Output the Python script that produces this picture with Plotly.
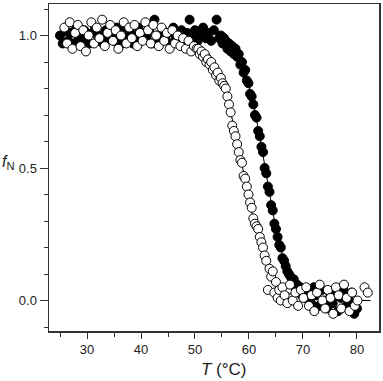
import plotly.graph_objects as go

# ---- filled circles (series 1) ----
T_FILLED = [
    25.0, 25.5, 26.0, 26.5, 27.0, 27.5, 28.0, 28.5, 29.0, 29.5,
    30.0, 30.5, 31.0, 31.5, 32.0, 32.5, 33.0, 33.5, 34.0, 34.5,
    35.0, 35.5, 36.0, 36.5, 37.0, 37.5, 38.0, 38.5, 39.0, 39.5,
    40.0, 40.5, 41.0, 41.5, 42.0, 42.5, 43.0, 43.5, 44.0, 44.5,
    45.0, 45.5, 46.0, 46.5, 47.0, 47.5, 48.0, 48.5, 49.0, 49.5,
    50.0, 50.5, 51.0, 51.5, 52.0, 52.5, 53.0, 53.5, 54.0, 54.5,
    54.8, 55.1, 55.4, 55.7, 56.0, 56.3, 56.6, 56.9, 57.2, 57.5,
    57.8, 58.1, 58.4, 58.7, 59.0, 59.3, 59.6, 59.9, 60.2, 60.5,
    60.8, 61.1, 61.4, 61.7, 62.0, 62.3, 62.6, 62.9, 63.2, 63.5,
    63.8, 64.1, 64.4, 64.7, 65.0, 65.3, 65.6, 65.9, 66.2, 66.5,
    66.8, 67.1, 67.4, 67.7, 68.0, 68.3, 68.6, 68.9, 69.2, 69.5,
    69.8, 70.1,
    70.5, 71.0, 71.5, 72.0, 72.5, 73.0, 73.5, 74.0, 74.5, 75.0,
    75.5, 76.0, 76.5, 77.0, 77.5, 78.0, 78.5, 79.0, 79.5, 80.0,
]
F_FILLED = [
    1.00, 0.97, 1.02, 0.98, 1.01, 0.97, 1.03, 0.99, 0.98, 1.02,
    1.00, 0.97, 1.01, 1.03, 0.98, 1.00, 0.97, 1.02, 0.99, 1.01,
    0.98, 1.03, 1.00, 0.97, 1.02, 0.99, 1.01, 0.97, 1.00, 1.03,
    0.98, 1.01, 0.99, 1.02, 0.97, 1.06, 1.00, 0.98, 1.02, 0.99,
    1.01, 0.97, 1.03, 0.99, 1.00, 1.02, 0.98, 1.01, 1.06, 0.99,
    1.02, 0.98, 1.00, 1.03, 0.99, 1.01, 0.98, 1.02, 1.06, 0.99,
    1.00, 0.97, 0.99, 0.98, 0.95, 0.97, 0.94, 0.96, 0.93, 0.95,
    0.92, 0.93, 0.89, 0.90, 0.86, 0.87, 0.83, 0.82, 0.78, 0.77,
    0.74, 0.70, 0.69, 0.64, 0.62, 0.58, 0.56, 0.50, 0.48, 0.43,
    0.41, 0.36, 0.34, 0.29, 0.27, 0.24, 0.21, 0.20, 0.16, 0.15,
    0.13, 0.11, 0.10, 0.09, 0.07, 0.08, 0.05, 0.06, 0.03, 0.05,
    0.02, 0.04,
    0.01, 0.03, -0.01, 0.05, 0.02, -0.02, 0.04, 0.00, -0.03, 0.03,
    -0.01, 0.02, -0.04, 0.01, 0.04, -0.02, 0.00, 0.03, -0.05, -0.03,
]

# ---- open circles (series 2) ----
T_OPEN = [
    25.8, 26.3, 26.8, 27.3, 27.8, 28.3, 28.8, 29.3, 29.8, 30.3,
    30.8, 31.3, 31.8, 32.3, 32.8, 33.3, 33.8, 34.3, 34.8, 35.3,
    35.8, 36.3, 36.8, 37.3, 37.8, 38.3, 38.8, 39.3, 39.8, 40.3,
    40.8, 41.3, 41.8, 42.3, 42.8, 43.3, 43.8, 44.3, 44.8, 45.3,
    45.8, 46.3, 46.8, 47.3, 47.8, 48.3, 48.8, 49.3, 49.8, 50.3,
    50.6, 50.9, 51.2, 51.5, 51.8, 52.1, 52.4, 52.7, 53.0, 53.3,
    53.6, 53.9, 54.2, 54.5, 54.8, 55.1, 55.4, 55.7, 56.0, 56.3,
    56.6, 56.9, 57.2, 57.5, 57.8, 58.1, 58.4, 58.7, 59.0, 59.3,
    59.6, 59.9, 60.2, 60.5, 60.8, 61.1, 61.4, 61.7, 62.0, 62.3,
    62.6, 62.9, 63.2, 63.5, 63.8, 64.1, 64.4, 64.7, 65.0, 65.3,
    65.6, 65.9, 66.2,
    66.6, 67.1, 67.6, 68.1, 68.6, 69.1, 69.6, 70.1, 70.6, 71.1,
    71.6, 72.1, 72.6, 73.1, 73.6, 74.1, 74.6, 75.1, 75.6, 76.1,
    76.6, 77.1, 77.6, 78.1, 78.6, 79.1, 79.6, 80.1, 81.4, 82.0,
]
F_OPEN = [
    1.03, 0.97, 1.05, 0.95, 1.01, 1.04, 0.96, 1.02, 0.94, 1.00,
    1.05, 0.97, 1.03, 0.99, 1.06, 0.96, 1.01, 1.04, 0.98, 1.02,
    0.95, 1.00, 1.05, 0.97, 1.03, 0.99, 1.04, 0.96, 1.01, 0.98,
    1.05, 1.02, 0.97, 1.04, 1.00, 0.96, 1.03, 0.98, 1.01, 0.95,
    1.02, 0.97, 1.00, 0.96, 0.99, 0.95, 0.98, 0.94, 0.96, 0.95,
    0.95, 0.93, 0.94, 0.92, 0.93, 0.90, 0.91, 0.89, 0.90, 0.87,
    0.88, 0.85, 0.86, 0.83, 0.84, 0.82, 0.81, 0.80, 0.77, 0.74,
    0.71, 0.66, 0.64, 0.62, 0.59, 0.56, 0.53, 0.52, 0.47, 0.46,
    0.43, 0.40, 0.37, 0.35, 0.31, 0.29, 0.28, 0.27, 0.24, 0.22,
    0.20, 0.17, 0.15, 0.04, 0.12, 0.09, 0.11, 0.03, 0.07, 0.01,
    0.04, 0.00, 0.05,
    0.02, -0.01, 0.06, 0.00, 0.03, -0.02, 0.04, 0.01, 0.05, -0.02,
    0.02, -0.04, 0.03, 0.06, 0.00, -0.03, 0.04, 0.01, -0.05, 0.05,
    0.02, -0.03, 0.06, 0.01, -0.04, 0.03, -0.02, 0.00, 0.05, 0.03,
]

# ---- fitted curves ----
FIT_T_FILLED = [
    25, 35, 45, 50, 52, 54, 55, 55.5, 56, 56.5, 57, 57.5, 58, 58.5, 59, 59.5,
    60, 60.5, 61, 61.5, 62, 62.5, 63, 63.5, 64, 64.5, 65, 65.5, 66, 66.5,
    67, 67.5, 68, 68.5, 69, 69.5, 70, 71, 72, 73, 74, 75, 77, 80,
]
FIT_F_FILLED = [
    1.000, 1.000, 1.000, 0.998, 0.995, 0.988, 0.980, 0.975, 0.968, 0.960,
    0.949, 0.936, 0.920, 0.900, 0.876, 0.847, 0.812, 0.772, 0.726, 0.675,
    0.620, 0.561, 0.500, 0.439, 0.380, 0.325, 0.274, 0.228, 0.188, 0.154,
    0.124, 0.100, 0.080, 0.064, 0.051, 0.040, 0.032, 0.020, 0.012, 0.008,
    0.005, 0.003, 0.001, 0.000,
]
FIT_T_OPEN = [
    25, 35, 45, 46, 47, 48, 49, 50, 50.5, 51, 51.5, 52, 52.5, 53, 53.5, 54,
    54.5, 55, 55.5, 56, 56.5, 57, 57.5, 58, 58.5, 59, 59.5, 60, 60.5, 61,
    61.5, 62, 62.5, 63, 63.5, 64, 64.5, 65, 65.5, 66, 67, 68, 69, 70, 71,
    72, 73, 75, 78, 82.5,
]
FIT_F_OPEN = [
    1.000, 1.000, 0.997, 0.995, 0.993, 0.989, 0.983, 0.975, 0.969, 0.963,
    0.954, 0.944, 0.933, 0.918, 0.901, 0.881, 0.857, 0.830, 0.798, 0.763,
    0.723, 0.679, 0.632, 0.582, 0.531, 0.479, 0.428, 0.378, 0.330, 0.286,
    0.245, 0.209, 0.176, 0.148, 0.124, 0.103, 0.085, 0.070, 0.058, 0.047,
    0.032, 0.021, 0.014, 0.009, 0.006, 0.004, 0.003, 0.001, 0.000, 0.000,
]

X_TICKS = [30, 40, 50, 60, 70, 80]
Y_TICKS = [0.0, 0.5, 1.0]
Y_TICK_LABELS = ["0.0", "0.5", "1.0"]

FONT = "Liberation Sans, Arial, sans-serif"

fig = go.Figure()
fig.add_trace(go.Scatter(x=FIT_T_FILLED, y=FIT_F_FILLED, mode="lines",
                         line=dict(color="black", width=1), hoverinfo="skip"))
fig.add_trace(go.Scatter(x=FIT_T_OPEN, y=FIT_F_OPEN, mode="lines",
                         line=dict(color="black", width=1), hoverinfo="skip"))
fig.add_trace(go.Scatter(x=T_FILLED, y=F_FILLED, mode="markers",
                         marker=dict(size=9, color="black",
                                     line=dict(color="black", width=1))))
fig.add_trace(go.Scatter(x=T_OPEN, y=F_OPEN, mode="markers",
                         marker=dict(size=9, color="white",
                                     line=dict(color="black", width=1))))

axis_common = dict(showgrid=False, zeroline=False, showline=True,
                   linecolor="#333333", linewidth=1.5, mirror=True,
                   ticks="outside", tickcolor="#333333", tickwidth=1,
                   tickfont=dict(family=FONT, size=13, color="#222222"))

fig.update_layout(
    width=383, height=381,
    margin=dict(l=49, r=2, t=2, b=50),
    paper_bgcolor="white", plot_bgcolor="white",
    showlegend=False,
    xaxis=dict(range=[22.96, 84.08], tickvals=X_TICKS, ticklen=6,
               minor=dict(dtick=5, tick0=25, ticklen=4, ticks="outside",
                          tickcolor="#333333"),
               **axis_common),
    yaxis=dict(range=[-0.115, 1.119], tickvals=Y_TICKS,
               ticktext=Y_TICK_LABELS, ticklen=8,
               minor=dict(dtick=0.1, tick0=0, ticklen=4, ticks="outside",
                          tickcolor="#333333"),
               **axis_common),
    annotations=[
        dict(text="<i>T</i> (°C)", xref="paper", yref="paper",
             x=0.529, y=-0.1185, xanchor="center", yanchor="middle",
             showarrow=False,
             font=dict(family=FONT, size=17, color="#222222")),
        dict(text="<i>f</i><sub>N</sub>", xref="paper", yref="paper",
             x=-0.1474, y=0.514, xanchor="left", yanchor="middle",
             showarrow=False,
             font=dict(family=FONT, size=16, color="#222222")),
    ],
)

fig.write_html(
    "out.html",
    config={"displayModeBar": False, "staticPlot": True},
    post_script="document.body.style.margin='0';document.body.style.overflow='hidden';",
)
